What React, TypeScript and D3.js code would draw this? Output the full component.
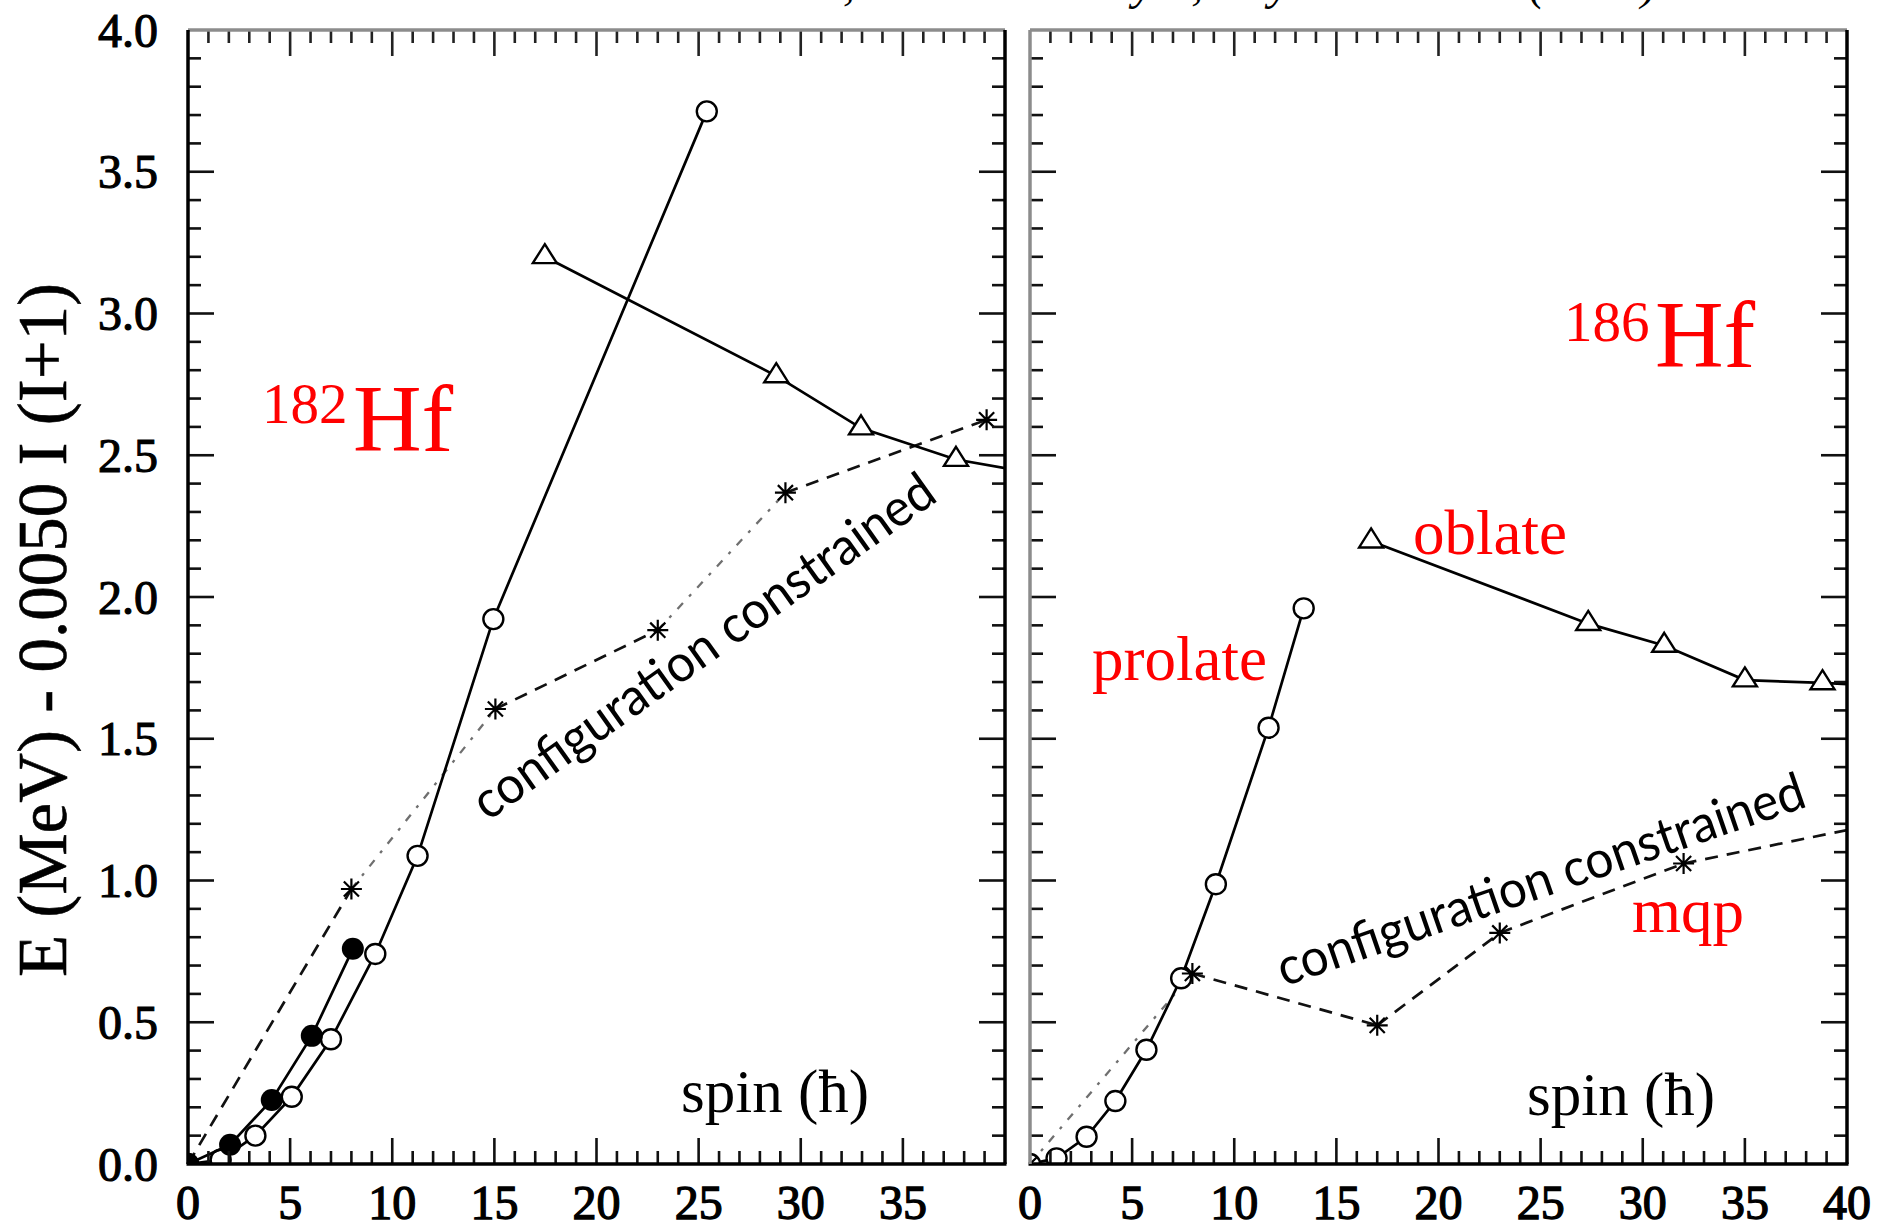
import React from "react";
import * as d3 from "d3";

// ---- 182Hf : spin (hbar) and E - 0.0050 I(I+1) (MeV) ----
const hf182ExpSpin = [0, 2.06, 4.1, 6.06, 8.07];
const hf182ExpE = [0, 0.068, 0.226, 0.452, 0.759];
const hf182ProlateSpin = [0, 1.6, 3.3, 5.08, 7.0, 9.17, 11.24, 14.95, 25.4];
const hf182ProlateE = [0, 0.015, 0.1, 0.237, 0.44, 0.741, 1.087, 1.922, 3.713];
const hf182OblateSpin = [17.47, 28.8, 32.95, 37.6, 42.0];
const hf182OblateE = [3.2, 2.78, 2.596, 2.485, 2.43];
const hf182MqpSpin = [0, 8.0, 15.05, 23.0, 29.25, 39.1];
const hf182MqpE = [0, 0.97, 1.605, 1.883, 2.368, 2.625];
const hf182MqpFaintSegments = [1, 3];

// ---- 186Hf ----
const hf186ProlateSpin = [0, 1.3, 2.77, 4.18, 5.7, 7.4, 9.1, 11.68, 13.4];
const hf186ProlateE = [0, 0.02, 0.096, 0.222, 0.403, 0.655, 0.987, 1.539, 1.96];
const hf186OblateSpin = [16.7, 27.33, 31.05, 35.0, 38.8, 42.0];
const hf186OblateE = [2.197, 1.906, 1.829, 1.707, 1.697, 1.685];
const hf186MqpSpin = [0, 7.95, 17.0, 23.0, 32.0, 42.5];
const hf186MqpE = [0, 0.672, 0.489, 0.815, 1.06, 1.215];
const hf186MqpFaintSegments = [0];

// ---- axes ----
const yTickLabels = ["0.0", "0.5", "1.0", "1.5", "2.0", "2.5", "3.0", "3.5", "4.0"];
const leftXTickLabels = ["0", "5", "10", "15", "20", "25", "30", "35"];
const rightXTickLabels = ["0", "5", "10", "15", "20", "25", "30", "35", "40"];

const W = 1897;
const H = 1228;
const SERIF = "'Liberation Serif', 'Times New Roman', serif";
const SANS = "Lato, 'Open Sans', sans-serif";

type Pt = [number, number];
const zip = (xs: number[], ys: number[]): Pt[] => xs.map((v, i) => [v, ys[i]]);

const yScale = d3.scaleLinear().domain([0, 4]).range([1164, 30]);

function OpenCircle({ x, y }: { x: number; y: number }) {
  return <circle cx={x} cy={y} r={10} fill="#fff" stroke="#000" strokeWidth={2.4} />;
}
function FilledCircle({ x, y }: { x: number; y: number }) {
  return <circle cx={x} cy={y} r={11} fill="#000" />;
}
function Triangle({ x, y }: { x: number; y: number }) {
  const h = 19;
  const hw = 12;
  const d = `M${x},${y - (2 * h) / 3} L${x + hw},${y + h / 3} L${x - hw},${y + h / 3} Z`;
  return <path d={d} fill="#fff" stroke="#000" strokeWidth={2.4} />;
}
function Asterisk({ x, y }: { x: number; y: number }) {
  const s = 10.5;
  const k = s * 0.72;
  const d = `M${x - s},${y} L${x + s},${y} M${x},${y - s} L${x},${y + s} M${x - k},${y - k} L${x + k},${y + k} M${x - k},${y + k} L${x + k},${y - k}`;
  return <path d={d} stroke="#000" strokeWidth={2.2} fill="none" />;
}

function Frame({ x0, x1, leftColor, rightColor }: { x0: number; x1: number; leftColor: string; rightColor: string }) {
  const y0 = yScale(4);
  const yb = yScale(0);
  return (
    <g>
      <line x1={x0} x2={x1} y1={y0} y2={y0} stroke="#8c8c8c" strokeWidth={3.5} />
      <line x1={x0 - 1.5} x2={x1 + 1.5} y1={yb} y2={yb} stroke="#000" strokeWidth={3.5} />
      <line x1={x0} x2={x0} y1={y0} y2={yb} stroke={leftColor} strokeWidth={3.5} />
      <line x1={x1} x2={x1} y1={y0} y2={yb} stroke={rightColor} strokeWidth={3.5} />
    </g>
  );
}

function Ticks({ x }: { x: d3.ScaleLinear<number, number> }) {
  const [x0, x1] = x.range();
  const y0 = yScale(4);
  const yb = yScale(0);
  const minor = 13;
  const major = 26;
  const els: React.ReactNode[] = [];
  d3.range(1, 40).forEach((i) => {
    const len = i % 5 === 0 ? major : minor;
    const px = x(i);
    els.push(<line key={`xb${i}`} x1={px} x2={px} y1={yb} y2={yb - len} stroke="#111" strokeWidth={2.6} />);
    els.push(<line key={`xt${i}`} x1={px} x2={px} y1={y0} y2={y0 + len} stroke="#222" strokeWidth={2.6} />);
  });
  d3.range(1, 40).forEach((i) => {
    const len = i % 5 === 0 ? major : minor;
    const py = yScale(i / 10);
    els.push(<line key={`yl${i}`} x1={x0} x2={x0 + len} y1={py} y2={py} stroke="#111" strokeWidth={2.6} />);
    els.push(<line key={`yr${i}`} x1={x1} x2={x1 - len} y1={py} y2={py} stroke="#111" strokeWidth={2.6} />);
  });
  return <g>{els}</g>;
}

function SolidSeries({ pts, x, marker }: { pts: Pt[]; x: d3.ScaleLinear<number, number>; marker: string }) {
  const line = d3.line<Pt>().x((d) => x(d[0])).y((d) => yScale(d[1]));
  return (
    <g>
      <path d={line(pts) || ""} fill="none" stroke="#000" strokeWidth={2.7} />
      {pts.map((d, i) => {
        const px = x(d[0]);
        const py = yScale(d[1]);
        if (marker === "open") return <OpenCircle key={i} x={px} y={py} />;
        if (marker === "filled") return <FilledCircle key={i} x={px} y={py} />;
        return <Triangle key={i} x={px} y={py} />;
      })}
    </g>
  );
}

function DashedSeries({ pts, x, faint }: { pts: Pt[]; x: d3.ScaleLinear<number, number>; faint: number[] }) {
  const line = d3.line<Pt>().x((d) => x(d[0])).y((d) => yScale(d[1]));
  return (
    <g>
      {pts.slice(1).map((d, i) => {
        const isFaint = faint.includes(i);
        return (
          <path
            key={i}
            d={line([pts[i], d]) || ""}
            fill="none"
            stroke={isFaint ? "#6f6f6f" : "#111"}
            strokeWidth={isFaint ? 2.3 : 2.7}
            strokeDasharray={isFaint ? "8 9 3 9" : "13 9"}
          />
        );
      })}
    </g>
  );
}

function AsteriskMarks({ pts, x }: { pts: Pt[]; x: d3.ScaleLinear<number, number> }) {
  return (
    <g>
      {pts.map((d, i) => (
        <Asterisk key={i} x={x(d[0])} y={yScale(d[1])} />
      ))}
    </g>
  );
}

export default function App() {
  const xLeft = d3.scaleLinear().domain([0, 40]).range([188, 1005]);
  const xRight = d3.scaleLinear().domain([0, 40]).range([1030, 1847]);
  const yTop = yScale(4);
  const yBot = yScale(0);

  const l182Exp = zip(hf182ExpSpin, hf182ExpE);
  const l182Pro = zip(hf182ProlateSpin, hf182ProlateE);
  const l182Obl = zip(hf182OblateSpin, hf182OblateE);
  const l182Mqp = zip(hf182MqpSpin, hf182MqpE);
  const r186Pro = zip(hf186ProlateSpin, hf186ProlateE);
  const r186Obl = zip(hf186OblateSpin, hf186OblateE);
  const r186Mqp = zip(hf186MqpSpin, hf186MqpE);

  const yLabelVals = yTickLabels.map((_, i) => i * 0.5);

  return (
    <svg
      width={W}
      height={H}
      viewBox={`0 0 ${W} ${H}`}
      style={{ position: "absolute", left: 0, top: 0, display: "block", background: "#fff" }}
    >
      <defs>
        <clipPath id="clipL">
          <rect x={xLeft(0)} y={yTop} width={xLeft(40) - xLeft(0)} height={yBot - yTop} />
        </clipPath>
        <clipPath id="clipR">
          <rect x={xRight(0)} y={yTop} width={xRight(40) - xRight(0)} height={yBot - yTop} />
        </clipPath>
      </defs>
      <rect x={0} y={0} width={W} height={H} fill="#fff" />

      {/* reference line along the top edge, mostly outside the page */}
      <text x={1657} y={-1} textAnchor="end" fontFamily={SERIF} fontStyle="italic" fontSize={48} fill="#000">
        Xu, Walker and Wyss, Phys. Rev. C 62 (2000)
      </text>

      {/* ---------- 182Hf panel ---------- */}
      <g clipPath="url(#clipL)">
        <DashedSeries pts={l182Mqp} x={xLeft} faint={hf182MqpFaintSegments} />
        <SolidSeries pts={l182Obl} x={xLeft} marker="triangle" />
        <SolidSeries pts={l182Pro} x={xLeft} marker="open" />
        <AsteriskMarks pts={l182Mqp} x={xLeft} />
        <SolidSeries pts={l182Exp} x={xLeft} marker="filled" />
      </g>
      <Ticks x={xLeft} />
      <Frame x0={xLeft(0)} x1={xLeft(40)} leftColor="#000" rightColor="#000" />

      {/* ---------- 186Hf panel ---------- */}
      <g clipPath="url(#clipR)">
        <DashedSeries pts={r186Mqp} x={xRight} faint={hf186MqpFaintSegments} />
        <SolidSeries pts={r186Obl} x={xRight} marker="triangle" />
        <SolidSeries pts={r186Pro} x={xRight} marker="open" />
        <AsteriskMarks pts={r186Mqp} x={xRight} />
      </g>
      <Ticks x={xRight} />
      <Frame x0={xRight(0)} x1={xRight(40)} leftColor="#8c8c8c" rightColor="#000" />

      {/* y tick labels */}
      {yTickLabels.map((t, i) => (
        <text
          key={t}
          x={158}
          y={yScale(yLabelVals[i]) + 16.5}
          textAnchor="end"
          fontFamily={SERIF}
          fontSize={48}
          fill="#000"
          stroke="#000"
          strokeWidth={1.1}
        >
          {t}
        </text>
      ))}

      {/* x tick labels */}
      {leftXTickLabels.map((t) => (
        <text key={`l${t}`} x={xLeft(+t)} y={1219} textAnchor="middle" fontFamily={SERIF} fontSize={48} fill="#000" stroke="#000" strokeWidth={1.3}>
          {t}
        </text>
      ))}
      {rightXTickLabels.map((t) => (
        <text key={`r${t}`} x={xRight(+t)} y={1219} textAnchor="middle" fontFamily={SERIF} fontSize={48} fill="#000" stroke="#000" strokeWidth={1.3}>
          {t}
        </text>
      ))}

      {/* y axis title */}
      <text
        transform={`translate(66, 630) rotate(-90)`}
        textAnchor="middle"
        fontFamily={SERIF}
        fontSize={69}
        fill="#000"
        stroke="#000"
        strokeWidth={0.6}
      >
        E (MeV) - 0.0050 I (I+1)
      </text>

      {/* axis captions inside the panels */}
      <text x={681} y={1112} fontFamily={SERIF} fontSize={61} fill="#000">
        spin (ħ)
      </text>
      <text x={1527} y={1115} fontFamily={SERIF} fontSize={61} fill="#000">
        spin (ħ)
      </text>

      {/* nucleus names */}
      <text x={262} y={423} fontFamily={SERIF} fontSize={57} fill="#ff0000">
        182
      </text>
      <text x={353} y={451} fontFamily={SERIF} fontSize={95} fill="#ff0000">
        Hf
      </text>
      <text x={1564} y={341} fontFamily={SERIF} fontSize={57} fill="#ff0000">
        186
      </text>
      <text x={1655} y={367} fontFamily={SERIF} fontSize={95} fill="#ff0000">
        Hf
      </text>

      {/* shape labels */}
      <text x={1092} y={680} fontFamily={SERIF} fontSize={63} fill="#ff0000">
        prolate
      </text>
      <text x={1413} y={554} fontFamily={SERIF} fontSize={63} fill="#ff0000">
        oblate
      </text>
      <text x={1632} y={932} fontFamily={SERIF} fontSize={63} fill="#ff0000">
        mqp
      </text>

      {/* configuration constrained annotations */}
      <text
        transform="translate(706, 650) rotate(-35.5)"
        textAnchor="middle"
        dominantBaseline="middle"
        fontFamily={SANS}
        fontSize={52}
        textLength={555}
        lengthAdjust="spacingAndGlyphs"
        fill="#000"
      >
        configuration constrained
      </text>
      <text
        transform="translate(1542, 884) rotate(-19)"
        textAnchor="middle"
        dominantBaseline="middle"
        fontFamily={SANS}
        fontSize={52}
        textLength={555}
        lengthAdjust="spacingAndGlyphs"
        fill="#000"
      >
        configuration constrained
      </text>
    </svg>
  );
}
